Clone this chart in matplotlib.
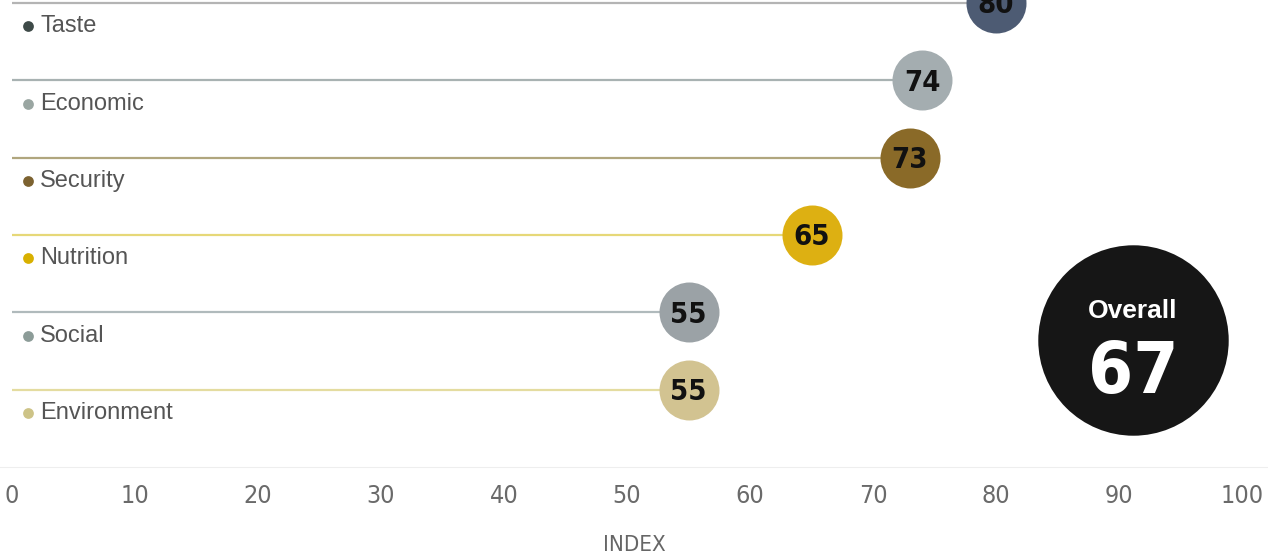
import matplotlib
matplotlib.use("Agg")
from matplotlib import pyplot as plt
from matplotlib import font_manager

# data
categories = ["Taste", "Economic", "Security", "Nutrition", "Social", "Environment"]
scores = [80, 74, 73, 65, 55, 55]
overall_score = 67
x_ticks = [0, 10, 20, 30, 40, 50, 60, 70, 80, 90, 100]

circle_colors = ["#4d5b73", "#a4adb0", "#8a6a28", "#ddb012", "#9ba2a6", "#d2c391"]
dot_colors = ["#3e4a48", "#9aa6a2", "#7c6230", "#d8b000", "#8c9c98", "#cdc387"]
line_colors = ["#b4b4b4", "#a8b2b2", "#b0a67e", "#e6d878", "#b0babc", "#e4dca0"]

installed = {f.name for f in font_manager.fontManager.ttflist}
narrow_name = "Liberation Sans Narrow" if "Liberation Sans Narrow" in installed else "DejaVu Sans"
narrow = dict(family=narrow_name, stretch="condensed")
plain = ["Liberation Sans", "DejaVu Sans"]

fig = plt.figure(figsize=(12.68, 5.55), dpi=100)
ax = fig.add_axes([0, 88 / 555, 1, 1 - 88 / 555])
ax.set_xlim(-12 / 12.3, 100 + 26 / 12.3)
ax.set_ylim(6.0, -0.04)

rows = list(range(len(categories)))
for row, name, score, ccol, dcol, lcol in zip(rows, categories, scores,
                                               circle_colors, dot_colors, line_colors):
    ax.plot([0, score], [row, row], color=lcol, lw=1.6, zorder=1, solid_capstyle="butt")
    ax.scatter([score], [row], s=1866, color=ccol, zorder=3, linewidths=0)
    ax.text(score, row + 0.03, str(score), ha="center", va="center",
            fontsize=21, fontweight="bold", color="#111111", zorder=4, **narrow)
    # category label with coloured dot below the line
    ax.scatter([1.3], [row + 0.3], s=60, color=dcol, zorder=3, linewidths=0)
    ax.text(2.3, row + 0.3, name, ha="left", va="center", fontsize=17,
            color="#555555", family=plain)

# overall badge
ax.scatter([0.8935], [0.272], s=18800, color="#161616", transform=ax.transAxes,
           zorder=3, linewidths=0, clip_on=False)
ax.text(0.8935, 0.335, "Overall", transform=ax.transAxes, ha="center", va="center",
        fontsize=19, fontweight="bold", color="white", family=plain, zorder=4)
ax.text(0.8935, 0.200, str(overall_score), transform=ax.transAxes, ha="center",
        va="center", fontsize=52, fontweight="bold", color="white", zorder=4, **narrow)

ax.set_xticks(x_ticks)
ax.set_xticklabels([str(t) for t in x_ticks], fontsize=18, color="#6a6a6a", **narrow)
ax.tick_params(axis="x", length=0, pad=12)
ax.set_yticks([])
for side in ["top", "right", "left"]:
    ax.spines[side].set_visible(False)
ax.spines["bottom"].set_color("#eeeeee")
ax.set_xlabel("INDEX", fontsize=16, color="#666666", labelpad=20, **narrow)

fig.savefig("out.png", dpi=100)
